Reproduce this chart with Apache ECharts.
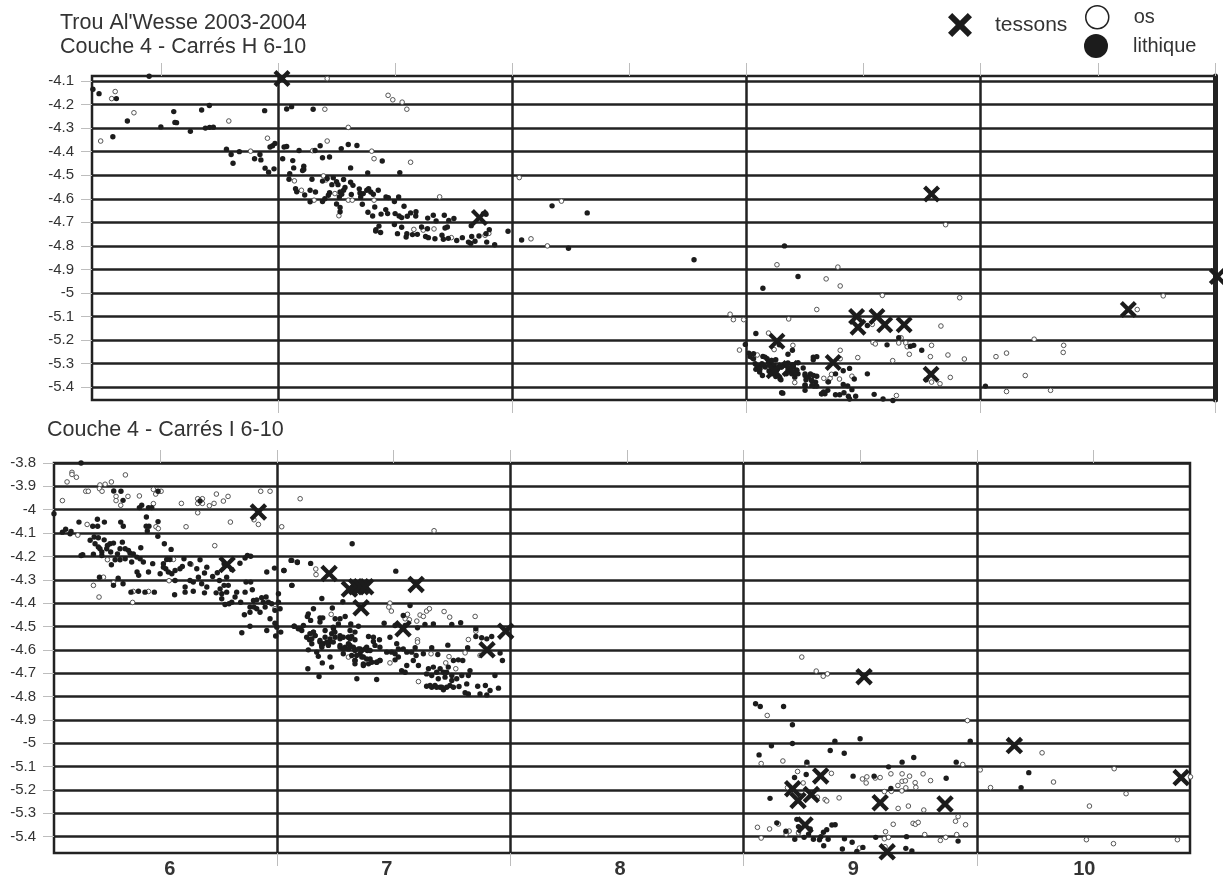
<!DOCTYPE html>
<html>
<head>
<meta charset="utf-8">
<style>html,body{margin:0;padding:0;background:#fff}#c{width:1223px;height:879px}</style>
<script src="https://cdn.jsdelivr.net/npm/echarts@6/dist/echarts.min.js"></script>
</head>
<body>
<div id="c"></div>
<script>
const yTicksH = [-4.1,-4.2,-4.3,-4.4,-4.5,-4.6,-4.7,-4.8,-4.9,-5,-5.1,-5.2,-5.3,-5.4];
const yTicksI = [-3.8,-3.9,-4,-4.1,-4.2,-4.3,-4.4,-4.5,-4.6,-4.7,-4.8,-4.9,-5,-5.1,-5.2,-5.3,-5.4];
const squareEdges = [7,8,9,10,11];
const halfTicks = [6.5,7,7.5,8,8.5,9,9.5,10,10.5,11];
const squareLabelPositions = [6.54,7.47,8.47,9.47,10.46];
const squareLabels = ['6','7','8','9','10'];

const tessonsH = [[7.017,-4.09],[7.86,-4.68],[9.79,-4.58],[11.01,-4.93],[10.63,-5.07],[9.47,-5.10],[9.476,-5.145],[9.557,-5.10],[9.59,-5.135],[9.673,-5.135],[9.13,-5.205],[9.118,-5.33],[9.186,-5.32],[9.37,-5.295],[9.788,-5.345]];

const osH = [[6.305,-4.145],[6.29,-4.175],[6.385,-4.235],[6.243,-4.355],[6.79,-4.27],[6.955,-4.343],[6.883,-4.398],[7.21,-4.09],[7.2,-4.22],[7.47,-4.161],[7.49,-4.18],[7.53,-4.19],[7.55,-4.22],[7.21,-4.355],[7.30,-4.297],[7.148,-4.396],[7.41,-4.43],[7.566,-4.445],[7.40,-4.398],[7.07,-4.524],[7.10,-4.564],[7.154,-4.606],[7.194,-4.503],[7.205,-4.52],[7.243,-4.578],[7.26,-4.672],[7.30,-4.606],[7.317,-4.606],[7.41,-4.606],[7.69,-4.592],[7.58,-4.73],[7.62,-4.733],[7.666,-4.728],[7.74,-4.765],[7.884,-4.755],[7.9,-4.747],
[8.03,-4.51],[8.08,-4.77],[8.15,-4.8],[8.21,-4.61],
[9.85,-4.71],[9.13,-4.88],[9.39,-4.89],[9.34,-4.94],[9.40,-4.97],[9.58,-5.01],[9.91,-5.02],[9.30,-5.07],[8.93,-5.09],[8.944,-5.113],[8.988,-5.113],[9.18,-5.11],[9.537,-5.133],[9.83,-5.14],[9.094,-5.17],[9.66,-5.19],[9.54,-5.21],[9.55,-5.216],[9.65,-5.212],[9.68,-5.212],[9.686,-5.228],[9.79,-5.222],[9.198,-5.222],[8.97,-5.242],[9.118,-5.24],[9.40,-5.243],[9.695,-5.26],[9.86,-5.263],[9.785,-5.27],[9.93,-5.28],[9.475,-5.274],[9.40,-5.279],[9.624,-5.287],[9.046,-5.263],[9.022,-5.274],[9.33,-5.362],[9.347,-5.377],[9.357,-5.362],[9.363,-5.345],[9.397,-5.365],[9.45,-5.353],[9.206,-5.38],[9.79,-5.378],[9.826,-5.385],[9.87,-5.358],[9.64,-5.435],
[10.065,-5.27],[10.11,-5.255],[10.228,-5.196],[10.354,-5.222],[10.352,-5.252],[10.19,-5.35],[10.11,-5.418],[10.298,-5.413],[10.668,-5.07],[10.779,-5.012]];

const lithiqueH = [[6.21,-4.135],[6.236,-4.154],[6.31,-4.175],[6.295,-4.337],[6.357,-4.27],[6.45,-4.08],[6.50,-4.295],[6.555,-4.23],[6.56,-4.276],[6.567,-4.277],[6.626,-4.314],[6.674,-4.223],[6.707,-4.204],[6.69,-4.30],[6.708,-4.297],[6.724,-4.296],[6.78,-4.39],[6.80,-4.412],[6.808,-4.449],[6.835,-4.40],[6.90,-4.43],[6.923,-4.412],[6.927,-4.435],[6.943,-4.226],[6.945,-4.47],[6.96,-4.487],[6.983,-4.473],[6.966,-4.38],[6.977,-4.375],[6.987,-4.365],
[7.02,-4.43],[7.026,-4.38],[7.037,-4.378],[7.037,-4.219],[7.058,-4.209],[7.063,-4.438],[7.067,-4.469],[7.05,-4.494],[7.047,-4.517],[7.09,-4.395],[7.11,-4.462],[7.11,-4.476],[7.105,-4.48],[7.15,-4.22],[7.158,-4.395],[7.18,-4.375],[7.19,-4.426],[7.22,-4.423],[7.27,-4.387],[7.30,-4.37],[7.337,-4.374],[7.31,-4.469],[7.383,-4.49],[7.445,-4.44],[7.52,-4.489],[7.145,-4.517],[7.075,-4.557],[7.08,-4.57],[7.114,-4.584],[7.137,-4.564],[7.16,-4.571],[7.137,-4.613],[7.19,-4.525],[7.19,-4.612],[7.2,-4.6],[7.215,-4.585],[7.22,-4.574],[7.21,-4.514],[7.236,-4.511],[7.25,-4.528],[7.256,-4.54],[7.23,-4.54],[7.28,-4.518],[7.31,-4.53],[7.32,-4.543],[7.286,-4.552],[7.28,-4.564],[7.265,-4.571],[7.272,-4.581],[7.262,-4.592],[7.313,-4.582],[7.347,-4.558],[7.35,-4.575],[7.353,-4.592],[7.364,-4.578],[7.379,-4.564],[7.387,-4.557],[7.396,-4.571],[7.407,-4.581],[7.428,-4.564],[7.36,-4.623],[7.25,-4.622],[7.265,-4.637],[7.265,-4.655],
[7.461,-4.592],[7.471,-4.595],[7.497,-4.612],[7.515,-4.592],[7.384,-4.657],[7.404,-4.673],[7.413,-4.635],[7.44,-4.665],[7.46,-4.646],[7.468,-4.663],[7.50,-4.663],[7.517,-4.673],[7.528,-4.68],[7.538,-4.632],[7.552,-4.674],[7.566,-4.66],[7.589,-4.655],[7.588,-4.673],[7.418,-4.731],[7.417,-4.737],[7.438,-4.743],[7.431,-4.716],[7.497,-4.709],[7.528,-4.721],[7.51,-4.748],[7.55,-4.748],[7.547,-4.762],[7.574,-4.752],[7.595,-4.751],[7.613,-4.72],[7.638,-4.727],[7.663,-4.67],[7.639,-4.682],[7.675,-4.694],[7.71,-4.67],[7.729,-4.692],[7.751,-4.684],[7.63,-4.76],[7.642,-4.765],[7.67,-4.77],[7.70,-4.755],[7.706,-4.772],[7.727,-4.768],[7.723,-4.72],[7.713,-4.724],[7.763,-4.777],[7.787,-4.765],[7.813,-4.784],[7.823,-4.79],[7.827,-4.76],[7.858,-4.758],[7.841,-4.78],[7.888,-4.748],[7.902,-4.731],[7.825,-4.714],[7.877,-4.663],[7.888,-4.666],[7.891,-4.784],[7.925,-4.795],[7.982,-4.738],
[8.04,-4.775],[8.24,-4.81],[8.17,-4.63],[8.32,-4.66],[8.776,-4.859],
[9.162,-4.80],[9.22,-4.93],[9.07,-4.98],[9.04,-5.172],[8.995,-5.218],[9.177,-5.26],[9.196,-5.243],[9.14,-5.22],[9.516,-5.138],[9.65,-5.19],[9.60,-5.22],[9.70,-5.226],[9.714,-5.222],[9.748,-5.243],[9.242,-5.318],[9.285,-5.272],[9.30,-5.27],[9.285,-5.283],[9.44,-5.32],[9.413,-5.33],[9.516,-5.343],[9.46,-5.365],[9.38,-5.343],[9.35,-5.377],[9.413,-5.388],[9.432,-5.394],[9.45,-5.41],[9.155,-5.425],[9.25,-5.39],[9.25,-5.413],[9.347,-5.413],[9.32,-5.428],[9.335,-5.428],[9.38,-5.432],[9.398,-5.432],[9.416,-5.423],[9.435,-5.438],[9.466,-5.438],[9.44,-5.45],[9.545,-5.43],[9.583,-5.45],[9.625,-5.456],[9.767,-5.368],[10.02,-5.395],
[9.01,-5.255],[9.03,-5.257],[9.015,-5.269],[9.03,-5.279],[9.037,-5.30],[9.052,-5.307],[9.07,-5.269],[9.088,-5.279],[9.106,-5.286],[9.125,-5.283],[9.066,-5.30],[9.08,-5.314],[9.10,-5.30],[9.118,-5.307],[9.04,-5.324],[9.056,-5.335],[9.068,-5.35],[9.096,-5.331],[9.11,-5.343],[9.133,-5.321],[9.147,-5.314],[9.162,-5.307],[9.177,-5.297],[9.195,-5.304],[9.22,-5.296],[9.177,-5.321],[9.19,-5.335],[9.214,-5.328],[9.22,-5.343],[9.206,-5.357],[9.147,-5.368],[9.125,-5.354],[9.17,-5.343],[9.25,-5.35],[9.273,-5.343],[9.30,-5.353],[9.254,-5.368],[9.277,-5.37],[9.295,-5.378],[9.288,-5.395],[9.30,-5.395],
[9.044,-5.307],[9.058,-5.321],[9.072,-5.307],[9.094,-5.293],[9.108,-5.286],[9.115,-5.321],[9.101,-5.335],[9.129,-5.328],[9.15,-5.314],[9.172,-5.307],[9.186,-5.321],[9.2,-5.314],[9.215,-5.328],[9.193,-5.343],[9.143,-5.364],[9.079,-5.272],[9.25,-5.343],[9.264,-5.357],[9.286,-5.35],[9.279,-5.371],[9.25,-5.392],[9.279,-5.392],[9.321,-5.428],[9.329,-5.42],[9.15,-5.423]];

const tessonsI = [[6.92,-4.01],[6.786,-4.235],[7.223,-4.273],[7.31,-4.34],[7.34,-4.33],[7.36,-4.33],[7.38,-4.33],[7.36,-4.42],[7.596,-4.32],[7.54,-4.51],[7.98,-4.52],[7.90,-4.60],[9.516,-4.715],[10.16,-5.01],[10.875,-5.147],[9.33,-5.14],[9.21,-5.195],[9.233,-5.245],[9.29,-5.22],[9.585,-5.255],[9.863,-5.26],[9.263,-5.35],[9.615,-5.465]];

const osI = [[6.121,-3.84],[6.121,-3.849],[6.14,-3.861],[6.1,-3.881],[6.08,-3.961],[6.35,-3.851],[6.29,-3.881],[6.241,-3.894],[6.263,-3.891],[6.239,-3.91],[6.25,-3.921],[6.18,-3.921],[6.191,-3.921],[6.31,-3.943],[6.31,-3.961],[6.33,-3.981],[6.361,-3.943],[6.41,-3.941],[6.47,-3.913],[6.48,-3.933],[6.503,-3.921],[6.47,-3.974],[6.59,-3.973],[6.66,-3.953],[6.68,-3.953],[6.66,-3.973],[6.68,-3.973],[6.66,-4.013],[6.71,-3.983],[6.73,-3.973],[6.74,-3.933],[6.77,-3.963],[6.79,-3.943],[6.8,-4.053],[6.93,-3.921],[6.97,-3.921],[6.901,-4.043],[6.92,-4.063],[7.02,-4.073],[7.099,-3.953],[6.186,-4.063],[6.481,-4.073],[6.491,-4.081],[6.61,-4.073],[6.733,-4.154],[6.146,-4.109],[6.273,-4.214],[6.556,-4.213],[6.631,-4.234],[6.256,-4.289],[6.213,-4.324],[6.299,-4.313],[6.237,-4.374],[6.384,-4.35],[6.449,-4.35],[6.381,-4.397],[6.537,-4.304],[6.991,-4.424],
[7.166,-4.254],[7.167,-4.278],[7.484,-4.4],[7.479,-4.417],[7.49,-4.434],[7.232,-4.448],[7.559,-4.448],[7.549,-4.467],[7.567,-4.471],[7.599,-4.477],[7.613,-4.451],[7.627,-4.457],[7.641,-4.434],[7.653,-4.424],[7.716,-4.436],[7.74,-4.46],[7.849,-4.457],[7.852,-4.52],[7.82,-4.556],[7.602,-4.557],[7.602,-4.567],[7.806,-4.613],[7.87,-4.624],[7.66,-4.617],[7.737,-4.629],[7.723,-4.656],[7.766,-4.681],[7.606,-4.736],[7.484,-4.656],[7.306,-4.631],[7.673,-4.09],[7.242,-4.531],
[9.249,-4.631],[9.311,-4.691],[9.341,-4.713],[9.359,-4.703],[9.101,-4.881],[9.959,-4.903],[9.075,-5.087],[9.168,-5.076],[9.271,-5.089],[9.231,-5.121],[9.376,-5.129],[9.188,-5.19],[9.255,-5.17],[9.242,-5.224],[9.316,-5.231],[9.349,-5.241],[9.356,-5.247],[9.409,-5.234],[9.509,-5.153],[9.528,-5.144],[9.525,-5.17],[9.564,-5.149],[9.585,-5.147],[9.631,-5.131],[9.679,-5.131],[9.711,-5.141],[9.769,-5.131],[9.801,-5.16],[9.679,-5.163],[9.693,-5.161],[9.735,-5.169],[9.738,-5.189],[9.695,-5.191],[9.661,-5.181],[9.633,-5.206],[9.678,-5.204],[9.603,-5.207],[9.939,-5.091],[9.662,-5.279],[9.706,-5.269],[9.772,-5.286],[9.641,-5.347],[9.726,-5.343],[9.736,-5.347],[9.748,-5.339],[9.919,-5.314],[9.908,-5.334],[9.951,-5.349],[9.059,-5.36],[9.111,-5.367],[9.149,-5.346],[9.195,-5.376],[9.182,-5.389],[9.235,-5.384],[9.075,-5.406],[9.608,-5.379],[9.776,-5.391],[9.913,-5.391],[9.621,-5.403],[9.603,-5.409],[9.866,-5.403],[9.843,-5.416],[9.606,-5.443],[9.496,-5.449],
[10.014,-5.114],[10.279,-5.041],[10.058,-5.19],[10.328,-5.166],[10.588,-5.109],[10.639,-5.216],[10.482,-5.269],[10.469,-5.413],[10.585,-5.43],[10.859,-5.413],[10.915,-5.144]];

const lithiqueI = [[6.044,-4.017],[6.16,-3.80],[6.08,-4.096],[6.094,-4.084],[6.117,-4.093],[6.113,-4.103],[6.151,-4.053],[6.23,-4.041],[6.21,-4.071],[6.231,-4.071],[6.26,-4.053],[6.30,-3.92],[6.331,-3.921],[6.34,-3.96],[6.33,-4.053],[6.341,-4.071],[6.41,-3.991],[6.42,-3.981],[6.449,-3.991],[6.463,-3.991],[6.44,-4.031],[6.439,-4.071],[6.451,-4.071],[6.444,-4.091],[6.49,-4.051],[6.489,-4.114],[6.49,-3.921],[6.517,-4.146],[6.546,-4.17],[6.67,-3.963],
[6.199,-4.131],[6.216,-4.117],[6.234,-4.12],[6.259,-4.129],[6.22,-4.146],[6.234,-4.16],[6.241,-4.167],[6.273,-4.153],[6.284,-4.146],[6.299,-4.143],[6.27,-4.167],[6.287,-4.181],[6.249,-4.181],[6.213,-4.191],[6.249,-4.196],[6.167,-4.193],[6.16,-4.196],[6.337,-4.139],[6.327,-4.167],[6.349,-4.167],[6.363,-4.174],[6.316,-4.189],[6.306,-4.214],[6.327,-4.214],[6.349,-4.21],[6.37,-4.186],[6.384,-4.189],[6.399,-4.203],[6.416,-4.163],[6.413,-4.21],[6.427,-4.224],[6.377,-4.224],[6.29,-4.236],[6.467,-4.231],[6.40,-4.267],[6.407,-4.281],[6.449,-4.267],[6.239,-4.289],[6.319,-4.293],[6.299,-4.324],[6.34,-4.317],[6.374,-4.353],[6.406,-4.349],[6.434,-4.353],[6.474,-4.353],
[6.513,-4.231],[6.527,-4.213],[6.541,-4.213],[6.513,-4.246],[6.499,-4.274],[6.523,-4.253],[6.534,-4.267],[6.549,-4.274],[6.563,-4.26],[6.584,-4.253],[6.594,-4.243],[6.601,-4.21],[6.627,-4.231],[6.67,-4.214],[6.699,-4.246],[6.656,-4.253],[6.689,-4.271],[6.724,-4.286],[6.744,-4.27],[6.773,-4.231],[6.841,-4.229],[6.863,-4.207],[6.873,-4.196],[6.887,-4.199],
[6.563,-4.303],[6.606,-4.331],[6.627,-4.303],[6.641,-4.31],[6.663,-4.289],[6.677,-4.317],[6.606,-4.353],[6.641,-4.349],[6.561,-4.364],[6.689,-4.356],[6.699,-4.331],[6.739,-4.356],[6.753,-4.303],[6.784,-4.289],[6.806,-4.256],[6.773,-4.324],[6.791,-4.324],[6.756,-4.339],[6.763,-4.36],[6.784,-4.353],[6.763,-4.381],[6.777,-4.406],[6.794,-4.403],[6.806,-4.396],[6.827,-4.353],[6.82,-4.374],[6.844,-4.396],[6.863,-4.353],[6.867,-4.31],[6.887,-4.31],[6.894,-4.343],
[6.899,-4.389],[6.913,-4.386],[6.934,-4.377],[6.953,-4.374],[6.941,-4.396],[6.963,-4.396],[6.977,-4.403],[7.006,-4.396],[7.013,-4.424],[6.991,-4.431],[7.006,-4.36],[6.884,-4.417],[6.901,-4.417],[6.913,-4.424],[6.927,-4.439],[6.884,-4.439],[6.86,-4.45],[6.949,-4.417],[6.97,-4.467],[6.991,-4.486],[6.956,-4.517],[6.999,-4.503],[7.016,-4.524],[6.994,-4.541],[6.849,-4.527],[6.884,-4.499],[6.956,-4.267],[6.989,-4.25],[7.029,-4.26],[7.06,-4.217],[7.087,-4.224],[7.063,-4.324],[7.074,-4.499],[7.091,-4.51],
[7.322,-4.146],[7.063,-4.217],[7.087,-4.226],[7.144,-4.23],[7.03,-4.26],[7.064,-4.324],[7.192,-4.38],[7.282,-4.394],[7.509,-4.263],[7.156,-4.424],[7.134,-4.446],[7.13,-4.457],[7.237,-4.421],[7.184,-4.463],[7.196,-4.463],[7.144,-4.474],[7.184,-4.481],[7.249,-4.467],[7.27,-4.467],[7.292,-4.457],[7.263,-4.489],[7.113,-4.496],[7.099,-4.51],[7.073,-4.499],[7.106,-4.517],[7.156,-4.524],[7.163,-4.539],[7.127,-4.546],[7.139,-4.557],[7.149,-4.574],[7.206,-4.517],[7.242,-4.51],[7.234,-4.531],[7.249,-4.546],[7.27,-4.553],[7.206,-4.546],[7.227,-4.567],[7.184,-4.567],[7.192,-4.589],[7.22,-4.581],[7.316,-4.489],[7.349,-4.499],[7.313,-4.517],[7.334,-4.524],[7.32,-4.543],[7.306,-4.546],[7.284,-4.546],[7.27,-4.581],[7.292,-4.589],[7.313,-4.581],[7.334,-4.557],[7.392,-4.543],[7.413,-4.546],[7.439,-4.557],[7.413,-4.564],[7.42,-4.581],[7.441,-4.589],[7.384,-4.589],[7.356,-4.596],[7.334,-4.603],[7.306,-4.596],
[7.134,-4.6],[7.17,-4.61],[7.177,-4.628],[7.227,-4.631],[7.194,-4.656],[7.234,-4.674],[7.132,-4.681],[7.18,-4.714],[7.342,-4.724],[7.427,-4.727],[7.284,-4.617],[7.32,-4.624],[7.334,-4.646],[7.356,-4.617],[7.37,-4.631],[7.334,-4.66],[7.37,-4.667],[7.392,-4.66],[7.399,-4.639],[7.427,-4.653],[7.441,-4.646],[7.387,-4.603],[7.47,-4.61],[7.491,-4.61],[7.506,-4.643],[7.52,-4.631],[7.513,-4.574],[7.52,-4.596],[7.506,-4.617],[7.541,-4.596],[7.534,-4.689],[7.549,-4.696],[7.556,-4.667],[7.506,-4.496],[7.541,-4.453],[7.57,-4.41],[7.549,-4.496],[7.602,-4.506],[7.484,-4.546],[7.459,-4.486],[7.634,-4.491],[7.67,-4.489],[7.749,-4.491],[7.787,-4.484],[7.852,-4.543],[7.877,-4.548],[7.899,-4.553],[7.92,-4.543],[7.852,-4.51],[7.592,-4.591],[7.663,-4.591],[7.732,-4.58],[7.817,-4.591],[7.596,-4.624],[7.627,-4.617],[7.584,-4.646],[7.606,-4.667],[7.689,-4.62],[7.556,-4.61],[7.577,-4.61],
[7.649,-4.681],[7.67,-4.674],[7.684,-4.696],[7.713,-4.696],[7.734,-4.674],[7.756,-4.646],[7.777,-4.643],[7.796,-4.646],[7.641,-4.703],[7.663,-4.71],[7.691,-4.724],[7.749,-4.71],[7.77,-4.724],[7.792,-4.71],[7.827,-4.689],[7.82,-4.71],[7.641,-4.756],[7.663,-4.76],[7.677,-4.753],[7.699,-4.76],[7.713,-4.771],[7.741,-4.753],[7.756,-4.76],[7.78,-4.757],[7.813,-4.746],[7.86,-4.756],[7.893,-4.753],[7.913,-4.774],[7.949,-4.764],[7.966,-4.646],[7.956,-4.614],[7.934,-4.71],[7.806,-4.784],[7.82,-4.789],[7.87,-4.789],[7.899,-4.793],
[7.184,-4.56],[7.198,-4.574],[7.213,-4.567],[7.227,-4.553],[7.241,-4.567],[7.191,-4.581],[7.27,-4.589],[7.284,-4.596],[7.306,-4.574],[7.313,-4.553],[7.327,-4.589],[7.349,-4.596],[7.363,-4.603],[7.377,-4.596],[7.399,-4.603],[7.341,-4.624],[7.363,-4.631],[7.384,-4.639],[7.406,-4.653],[7.427,-4.653],[7.441,-4.646],[7.37,-4.66],[7.334,-4.646],[7.141,-4.531],[7.156,-4.524],[7.163,-4.539],[7.149,-4.553],[7.241,-4.503],[7.248,-4.524],[7.306,-4.546],[7.27,-4.539],[7.656,-4.753],[7.684,-4.76],[7.706,-4.76],[7.727,-4.76],[7.72,-4.717],[7.699,-4.681],[7.727,-4.696],[7.749,-4.731],
[9.051,-4.831],[9.071,-4.843],[9.171,-4.843],[9.209,-4.921],[9.391,-4.991],[9.499,-4.981],[9.119,-5.011],[9.209,-5.001],[9.971,-4.991],[9.066,-5.05],[9.371,-5.031],[9.431,-5.043],[9.271,-5.081],[9.679,-5.081],[9.729,-5.061],[9.911,-5.081],[9.621,-5.101],[9.268,-5.134],[9.218,-5.147],[9.469,-5.141],[9.559,-5.141],[9.868,-5.15],[9.113,-5.236],[9.631,-5.194],[10.222,-5.126],[10.189,-5.19],[9.228,-5.326],[9.142,-5.341],[9.235,-5.357],[9.285,-5.367],[9.356,-5.37],[9.342,-5.381],[9.378,-5.35],[9.392,-5.349],[9.181,-5.377],[9.278,-5.389],[9.331,-5.4],[9.219,-5.411],[9.259,-5.403],[9.299,-5.411],[9.325,-5.413],[9.362,-5.411],[9.432,-5.409],[9.465,-5.424],[9.343,-5.439],[9.423,-5.453],[9.485,-5.463],[9.511,-5.446],[9.566,-5.403],[9.698,-5.4],[9.695,-5.45],[9.721,-5.461],[9.919,-5.419]];

const FONT = '"Liberation Sans", Arial, sans-serif';
const INK = '#222222';
const TICK = '#bdbdbd';
const CROSS = 'path://M3.5 0 L10 6.5 L16.5 0 L20 3.5 L13.5 10 L20 16.5 L16.5 20 L10 13.5 L3.5 20 L0 16.5 L6.5 10 L0 3.5 Z';

function xAxisFor(gridIndex, min, max, position, ticks, withLines, extraLabel) {
  return {
    type: 'value', gridIndex, min, max, position,
    axisLine: {show: false},
    axisTick: {show: true, customValues: ticks, length: 13, lineStyle: {color: TICK, width: 1}},
    splitLine: {show: withLines, lineStyle: {color: INK, width: 2.5}},
    axisLabel: extraLabel || {show: false}
  };
}
function yAxisFor(gridIndex, min, max, ticks) {
  return {
    type: 'value', gridIndex, min, max, position: 'left',
    axisLine: {show: false},
    axisTick: {show: true, customValues: ticks, length: 11, lineStyle: {color: TICK, width: 1}},
    splitLine: {show: true, lineStyle: {color: INK, width: 2.5}},
    axisLabel: {show: true, customValues: ticks, margin: 18, fontFamily: FONT, fontSize: 15, color: '#333',
      formatter: v => String(Number(v.toFixed(1)))}
  };
}
function marks(xIdx, yIdx, os, lithique, tessons, crossSize) {
  return [
    {name: 'os', type: 'scatter', xAxisIndex: xIdx, yAxisIndex: yIdx, data: os, clip: false, symbol: 'circle', symbolSize: 4.6,
      itemStyle: {color: '#fff', borderColor: '#444', borderWidth: 0.9, opacity: 1}, silent: true},
    {name: 'lithique', type: 'scatter', xAxisIndex: xIdx, yAxisIndex: yIdx, data: lithique, clip: false, symbol: 'circle', symbolSize: 5.4,
      itemStyle: {color: '#1c1c1c', opacity: 1}, silent: true},
    {name: 'tessons', type: 'scatter', xAxisIndex: xIdx, yAxisIndex: yIdx, data: tessons, clip: false, symbol: CROSS, symbolSize: crossSize,
      itemStyle: {color: '#1c1c1c', opacity: 1}, silent: true}
  ];
}
const legendText = (pad, size) => ({fontFamily: FONT, fontSize: size, color: '#333', padding: [0, 0, 0, pad]});
const titleText = {fontFamily: FONT, fontSize: 21.5, fontWeight: 'normal', color: '#333', lineHeight: 24};

const chart = echarts.init(document.getElementById('c'), null, {renderer: 'canvas'});
chart.setOption({
  animation: false,
  backgroundColor: '#fff',
  title: [
    {text: "Trou Al'Wesse 2003-2004\nCouche 4 - Carrés H 6-10", left: 60, top: 11, padding: 0, textStyle: titleText},
    {text: 'Couche 4 - Carrés I 6-10', left: 47, top: 418, padding: 0, textStyle: titleText}
  ],
  legend: [
    {data: [{name: 'tessons', icon: CROSS, itemStyle: {color: '#1c1c1c', opacity: 1}}], left: 948, top: 13, padding: 0, itemWidth: 24, itemHeight: 24, selectedMode: false, textStyle: legendText(18, 21)},
    {data: [{name: 'os', icon: 'circle', itemStyle: {color: '#fff', borderColor: '#222', borderWidth: 1.5, opacity: 1}}], left: 1085, top: 5, padding: 0, itemWidth: 23, itemHeight: 23, selectedMode: false, textStyle: legendText(20, 20)},
    {data: [{name: 'lithique', icon: 'circle', itemStyle: {color: '#1c1c1c', opacity: 1}}], left: 1084, top: 34, padding: 0, itemWidth: 24, itemHeight: 24, selectedMode: false, textStyle: legendText(20, 20)}
  ],
  grid: [
    {left: 92, top: 76, width: 1123, height: 324, show: true, borderColor: INK, borderWidth: 2.5, backgroundColor: '#fff', outerBoundsMode: 'none'},
    {left: 54, top: 463, width: 1136, height: 390, show: true, borderColor: INK, borderWidth: 2.5, backgroundColor: '#fff', outerBoundsMode: 'none'}
  ],
  xAxis: [
    xAxisFor(0, 6.206, 11, 'bottom', squareEdges, true),
    xAxisFor(0, 6.206, 11, 'top', halfTicks, false),
    xAxisFor(1, 6.044, 10.913, 'bottom', squareEdges, true, {
      show: true, customValues: squareLabelPositions, margin: 6, fontFamily: FONT, fontSize: 20, fontWeight: 'bold', color: '#333',
      formatter: v => squareLabels[squareLabelPositions.indexOf(v)]
    }),
    xAxisFor(1, 6.044, 10.913, 'top', halfTicks, false)
  ],
  yAxis: [
    yAxisFor(0, -5.454, -4.079, yTicksH),
    {type: 'value', gridIndex: 0, min: -5.454, max: -4.079, position: 'right',
      axisLine: {show: true, onZero: false, lineStyle: {color: INK, width: 5}},
      axisTick: {show: false}, axisLabel: {show: false}, splitLine: {show: false}},
    yAxisFor(1, -5.47, -3.8, yTicksI)
  ],
  series: [
    ...marks(0, 0, osH, lithiqueH, tessonsH, 17),
    ...marks(2, 2, osI, lithiqueI, tessonsI, 17.5)
  ]
});
</script>
</body>
</html>
